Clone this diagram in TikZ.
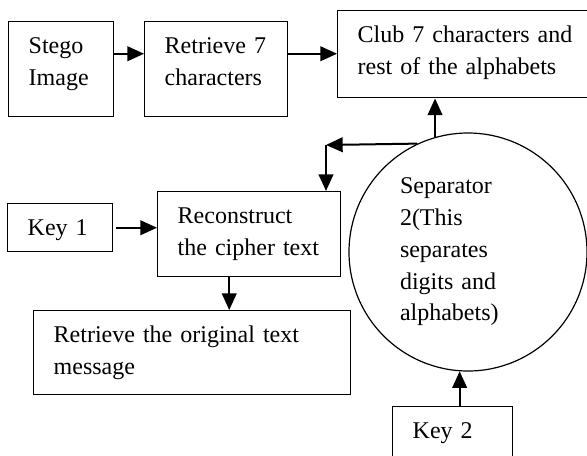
\documentclass[tikz,border=0pt]{standalone}
\usepackage{fontspec}
\setmainfont{Liberation Serif}
\usetikzlibrary{arrows.meta}

\tikzset{every picture/.style={line width=0.75pt}}
\tikzset{
  txt/.style={font=\fontsize{18}{23.8}\selectfont},
  box/.style={draw, line width=1.1pt, anchor=north west, inner xsep=15pt, inner ysep=0pt,
    align=left, text height=24pt, txt},
  arr/.style={line width=1.5pt, -{Triangle[length=12.5pt,width=11pt]}}
}

\begin{document}
\begin{tikzpicture}[x=0.75pt,y=0.75pt,yscale=-1,xscale=1]
	\useasboundingbox (0,0) rectangle (587,455);

	%Boxes, top left corner given
	\node [box, text width=48.75pt, text depth=47.25pt] (stego) at (8,21) {Stego\\Image};
	\node [box, text width=77.25pt, text depth=47.25pt] (ret7) at (144,21) {Retrieve 7\\characters};
	\node [box, text width=163.5pt, text depth=41.25pt] (club) at (337,10) {Club 7 characters and\\rest of the alphabets};
	\node [box, text width=48.75pt, text depth=12pt] (key1) at (7,203) {Key 1};
	\node [box, text width=107.25pt, text depth=39.75pt] (rec) at (157,191) {Reconstruct\\the cipher text};
	\node [box, text width=207.75pt, text depth=39pt] (orig) at (33,310) {Retrieve the original text\\message};
	\node [box, text width=60pt, text depth=21pt] (key2) at (392,406) {Key 2};

	%Separator circle
	\node [circle, draw, line width=0.9pt, minimum size=178.5pt, inner sep=0pt, text width=102pt, align=left, txt] (sep) at (468,252) {Separator\\2(This\\separates\\digits and\\alphabets)};

	\coordinate (turn) at (326,145);

	%Connectors
	\draw [arr] (stego.base east) -- (ret7.base west);
	\draw [arr] (ret7.base east) -- (ret7.base east -| club.west);
	\draw [arr] (sep.106) -- (sep.106 |- club.south);
	\draw [arr] (sep.115) -- (turn);
	\draw [arr] (turn) -- (turn |- rec.north);
	\draw [arr, shorten <=2pt] (key1.east) -- (key1.east -| rec.west);
	\draw [arr] ([xshift=-15pt]rec.south) -- ([xshift=-15pt]rec.south |- orig.north);
	\draw [arr] (key2.north -| sep.266) -- (sep.266);
\end{tikzpicture}
\end{document}
